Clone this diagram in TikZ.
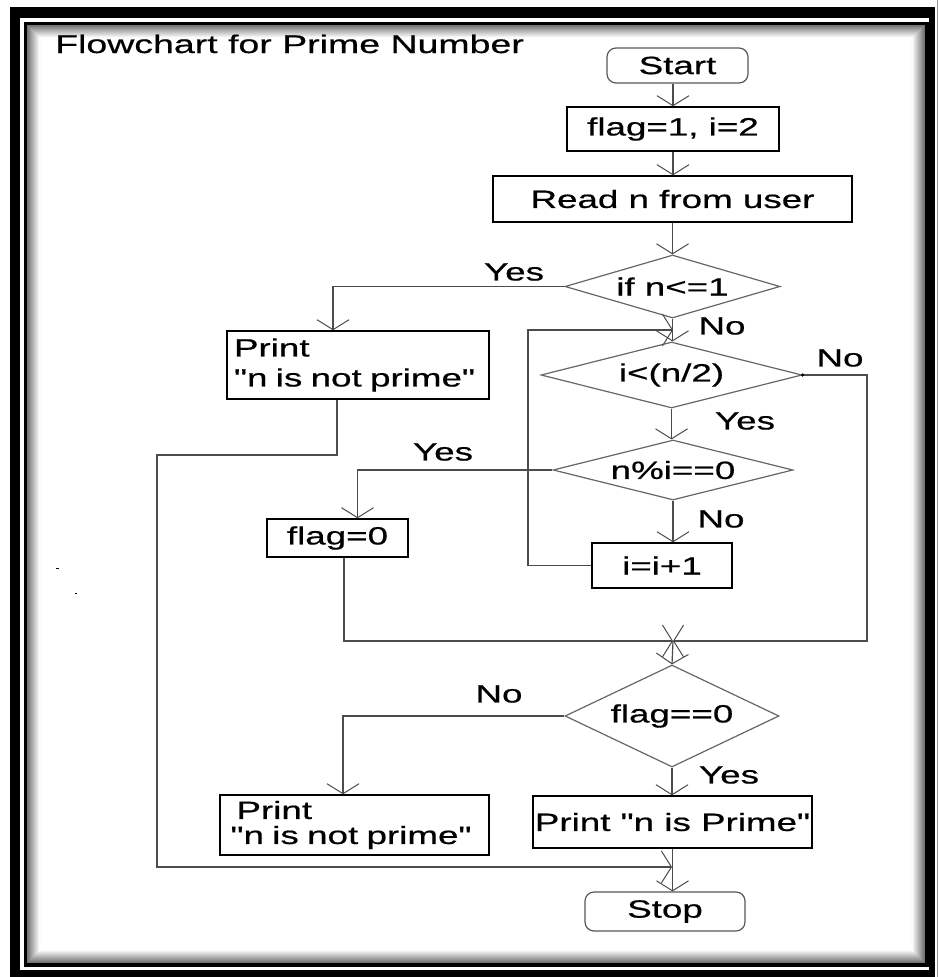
\documentclass[tikz,border=0pt]{standalone}
\usepackage{fontspec}
\setmainfont{Liberation Sans}[FakeStretch=1.47, FakeBold=0.6, Ligatures=TeXOff]
\usetikzlibrary{shapes.geometric,arrows.meta}

\begin{document}
\begin{tikzpicture}[x=1pt,y=-1pt,
  every node/.style={font=\fontsize{25}{30}\selectfont, inner sep=0pt},
  box/.style={draw=black, line width=1.4pt, rectangle},
  term/.style={draw=black!65, line width=1.2pt, rectangle, rounded corners=9pt},
  dia/.style={draw=black!60, line width=1.2pt, diamond},
  link/.style={draw=black!70, line width=1.2pt},
  arr/.style={link, -{Straight Barb[length=10pt,width=32pt,line width=1pt]}},
]
\useasboundingbox (0,0) rectangle (939,977);

% double frame with an inner shadow
\fill[black] (10,7) rectangle (935,977);
\fill[white] (20,18) rectangle (929,970);
\draw[black!40, line width=1pt] (937.5,0) -- (937.5,977);
\foreach \k [evaluate=\k as \c using 55-4.5*\k] in {0,...,12}
  \draw[black!\c, line width=1.1pt] (28+\k,26+\k) rectangle (924-\k,962-\k);
\draw[black, line width=3.5pt] (25.5,23.5) rectangle (927,965);

% stray marks
\fill (56,567.5) rectangle (59,569);
\fill (74.5,592.5) rectangle (76.5,594);

% title
\node[anchor=base west, font=\fontsize{25.5}{30}\selectfont] (title) at (55,53) {Flowchart for Prime Number};

% nodes
\node[term, minimum width=141pt, minimum height=35pt] (start) at (677.5,65.5) {Start};
\node[box, minimum width=212pt, minimum height=44pt] (init) at (673,129) {flag=1, i=2};
\node[box, minimum width=359pt, minimum height=46pt] (read) at (672.5,199) {Read n from user};
\node[dia, aspect=3.4, minimum width=215pt, minimum height=63pt] (d1) at (672.5,286.5) {if n<=1};
\node[box, minimum width=262pt, minimum height=68pt, text width=248pt, align=left] (p1) at (358,365) {Print\\"n is not prime"};
\node[dia, aspect=3.95, minimum width=261pt, minimum height=66pt] (d2) at (671.5,375) {i<(n/2)};
\node[dia, aspect=4, minimum width=240pt, minimum height=60pt] (d3) at (673,470) {n\%i==0};
\node[box, minimum width=141pt, minimum height=38pt] (f0) at (337.5,538) {flag=0};
\node[box, minimum width=140pt, minimum height=45pt] (inc) at (662,565.5) {i=i+1};
\node[dia, aspect=2.1, minimum width=214pt, minimum height=102pt] (d4) at (672,716) {flag==0};
\node[box, minimum width=269pt, minimum height=60pt, text width=248pt, align=left, font=\fontsize{25}{25}\selectfont] (p2) at (354.5,825) {\hspace*{6pt}Print\\"n is not prime"};
\node[box, minimum width=279pt, minimum height=52pt] (prime) at (672.5,822) {Print "n is Prime"};
\node[term, minimum width=160pt, minimum height=39pt] (stop) at (665,911.5) {Stop};

% branch labels
\node (l1) at (514,272) {Yes};
\node (l2) at (722,326) {No};
\node (l3) at (840,358) {No};
\node (l4) at (745,421) {Yes};
\node (l5) at (443,452) {Yes};
\node (l6) at (721,519) {No};
\node (l7) at (499,694) {No};
\node (l8) at (729,775) {Yes};

% junction points
\coordinate (loopin) at (673,330);
\coordinate (merge) at (673,641);
\coordinate (join) at (672,867);

% connectors
\draw[arr] (start.south -| init.north) -- (init.north);
\draw[arr] (init.south) -- (read.north -| init.south);
\draw[arr] (read.south -| d1.north) -- (d1.north);
\draw[arr] (d1.west) -| ([xshift=-25pt]p1.north);
\draw[arr] (d1.south) -- (d1.south |- d2.north);
\draw[arr] (inc.west) -| (528,330) -- (loopin);
\draw[arr] (d2.east) -| (867,641) -- (merge);
\fill (d2.east) circle (1.8pt);
\draw[arr] (d2.south) -- (d2.south |- d3.north);
\draw[arr] (d3.west) -| ([xshift=20pt]f0.north);
\draw[arr] (d3.south) -- (d3.south |- inc.north);
\draw[arr] ([xshift=6.5pt]f0.south) |- (merge);
\draw[arr] (merge) -- (d4.north);
\draw[arr] (d4.west) -| ([xshift=-11.5pt]p2.north);
\draw[arr] (d4.south) -- (d4.south |- prime.north);
\draw[arr] (prime.south) -- (prime.south |- stop.north);
\draw[arr] ([xshift=-21pt]p1.south) |- (157,455) |- (join);
\end{tikzpicture}
\end{document}
